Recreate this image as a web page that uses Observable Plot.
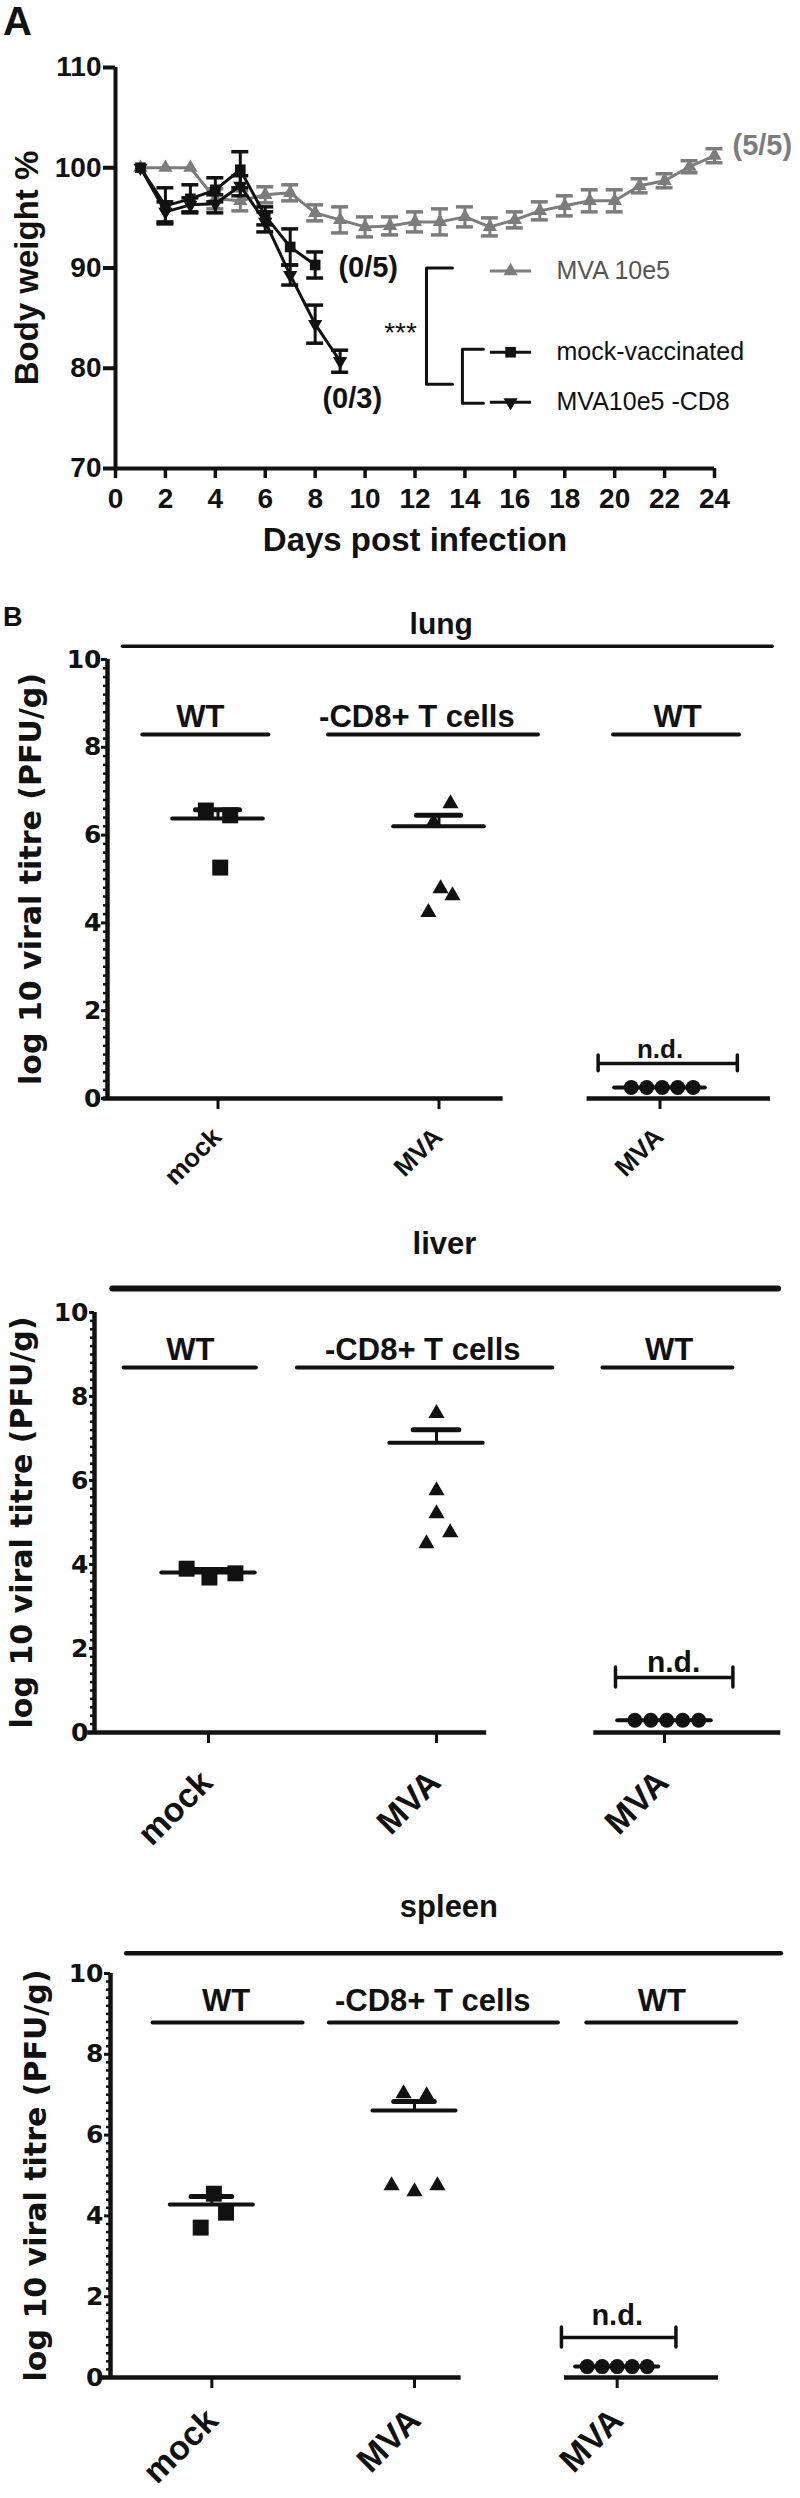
<!DOCTYPE html>
<html>
<head>
<meta charset="utf-8">
<script src="https://cdn.jsdelivr.net/npm/d3@7"></script>
<script src="https://cdn.jsdelivr.net/npm/@observablehq/plot@0.6"></script>
<style>
  body { margin: 0; background: #fff; }
  #page { position: relative; width: 800px; height: 2498px; overflow: hidden; background: #fff;
          font-family: "Liberation Sans", Arial, Helvetica, sans-serif; color: #111; }
  .letter { position: absolute; left: 3px; font-weight: bold; line-height: 1; }
</style>
</head>
<body>
<div id="page"></div>
<script>
// ---------------- Panel A data: body weight % (mean, SEM) ----------------
const dayMVA  = [1,2,3,4,5,6,7,8,9,10,11,12,13,14,15,16,17,18,19,20,21,22,23,24];
const mvaMean = [100,100,100,96.9,96.7,97.3,97.5,95.5,94.8,94.1,94.2,94.6,94.6,95.1,94.1,94.8,95.7,96.2,96.7,96.7,98.2,98.7,100.1,101.2];
const mvaSem  = [0,0,0,1.0,1.0,0.8,0.8,0.8,1.3,1.0,0.9,1.0,1.3,1.0,0.9,0.8,0.9,1.0,1.1,1.1,0.7,0.7,0.6,0.7];
const dayMock  = [1,2,3,4,5,6,7,8];
const mockMean = [100,96.2,96.9,97.8,99.8,95.2,92.1,90.3];
const mockSem  = [0,1.8,1.4,1.2,1.8,0.9,1.8,1.3];
const dayCD8  = [1,2,3,4,5,6,7,8,9];
const cd8Mean = [100,95.6,96.3,96.4,98.2,94.6,89.3,84.4,80.7];
const cd8Sem  = [0,1.0,0.7,0.9,1.0,1.0,1.0,1.9,1.1];
const seriesLabels = ["MVA 10e5", "mock-vaccinated", "MVA10e5 -CD8"];
const survivalLabels = ["(5/5)", "(0/5)", "(0/3)"];
const xTicksA = [0,2,4,6,8,10,12,14,16,18,20,22,24];
const yTicksA = [70,80,90,100,110];

// ---------------- Panel B data: log10 viral titre ----------------
const groupLabels = ["WT", "-CD8+ T cells", "WT"];
const catLabels = ["mock", "MVA", "MVA"];
const catIndex = [0, 1, 2];
const yTicksB = [0, 2, 4, 6, 8, 10];

const lungMock = [6.56, 6.45, 5.26];
const lungCD8  = [6.72, 6.29, 4.78, 4.62, 4.24];
const lungWT   = [0.25, 0.25, 0.25, 0.25, 0.25];
const lungMean = [6.38, 6.2, 0.25];
const lungSem  = [0.2, 0.25, 0];

const liverMock = [3.9, 3.69, 3.79];
const liverCD8  = [7.6, 5.76, 5.21, 4.76, 4.5];
const liverWT   = [0.29, 0.29, 0.29, 0.29, 0.29];
const liverMean = [3.81, 6.9, 0.29];
const liverSem  = [0.07, 0.31, 0];

const spleenMock = [4.55, 4.08, 3.71];
const spleenCD8  = [7.03, 6.98, 4.75, 4.6, 4.75];
const spleenWT   = [0.27, 0.27, 0.27, 0.27, 0.27];
const spleenMean = [4.28, 6.61, 0.27];
const spleenSem  = [0.2, 0.22, 0];

// horizontal scatter of the dots inside each column (category units)
const lungJit   = [[-0.055, 0.055, 0.01], [0.052, -0.025, 0.007, 0.061, -0.048], [-0.13, -0.06, 0.01, 0.08, 0.15]];
const liverJit  = [[-0.096, 0.004, 0.118], [0, 0, 0, 0.06, -0.044], [-0.13, -0.06, 0.01, 0.08, 0.15]];
const spleenJit = [[0.01, 0.07, -0.055], [-0.054, 0.06, -0.113, 0, 0.113], [-0.148, -0.074, 0, 0.074, 0.148]];

// ---------------- styling ----------------
const FONT = "'Liberation Sans', Arial, Helvetica, sans-serif";
const DEJA = "'DejaVu Sans', Verdana, sans-serif";
const INK = "#111";
const GREY = "#7c7c7c";
const page = document.getElementById("page");

function put(node, top) {
  node.style.position = "absolute";
  node.style.left = "0px";
  node.style.top = top + "px";
  page.appendChild(node);
}
function letter(t, top, size) {
  const d = document.createElement("div");
  d.className = "letter";
  d.textContent = t;
  d.style.top = top + "px";
  d.style.fontSize = size + "px";
  page.appendChild(d);
}

const downTriangle = {
  draw(ctx, size) {
    const y = -Math.sqrt(size / (3 * Math.sqrt(3)));
    ctx.moveTo(0, -2 * y);
    ctx.lineTo(-Math.sqrt(3) * y, y);
    ctx.lineTo(Math.sqrt(3) * y, y);
    ctx.closePath();
  }
};

// ---------------- Panel A ----------------
function recs(days, mean, sem) { return days.map((d, i) => ({day: d, v: mean[i], e: sem[i]})); }
function seriesMarks(data, color, symbol, r) {
  const err = data.filter(d => d.e > 0);
  return [
    Plot.ruleX(err, {x: "day", y1: d => d.v - d.e, y2: d => d.v + d.e, stroke: color, strokeWidth: 3}),
    Plot.ruleY(err, {x1: d => d.day - 0.34, x2: d => d.day + 0.34, y: d => d.v + d.e, stroke: color, strokeWidth: 3.5}),
    Plot.ruleY(err, {x1: d => d.day - 0.34, x2: d => d.day + 0.34, y: d => d.v - d.e, stroke: color, strokeWidth: 3.5}),
    Plot.line(data, {x: "day", y: "v", stroke: color, strokeWidth: 3}),
    Plot.dot(data, {x: "day", y: "v", symbol, r, fill: color, stroke: "none"})
  ];
}
const mva = recs(dayMVA, mvaMean, mvaSem);
const mock = recs(dayMock, mockMean, mockSem);
const cd8 = recs(dayCD8, cd8Mean, cd8Sem);

const legendRows = [
  {label: seriesLabels[0], y: 89.7, color: GREY, text: "#555", symbol: "triangle", r: 5},
  {label: seriesLabels[1], y: 81.6, color: INK, text: INK, symbol: "square", r: 6},
  {label: seriesLabels[2], y: 76.6, color: INK, text: INK, symbol: downTriangle, r: 5}
];
const survivalNotes = [
  {t: survivalLabels[0], x: 24.72, y: 102.2, c: GREY},
  {t: survivalLabels[1], x: 8.93, y: 90.0, c: INK},
  {t: survivalLabels[2], x: 8.29, y: 77.0, c: INK}
];

const plotA = Plot.plot({
  width: 800, height: 560,
  marginLeft: 115, marginRight: 86, marginTop: 67, marginBottom: 92,
  style: {fontFamily: FONT, color: INK, background: "transparent", overflow: "visible"},
  x: {domain: [0, 24]},
  y: {domain: [70, 110]},
  marks: [
    Plot.axisY({ticks: yTicksA, tickSize: 12, tickPadding: 2, fontSize: 28, fontWeight: "bold", strokeWidth: 4, label: null}),
    Plot.axisX({ticks: xTicksA, tickSize: 10, tickPadding: 10, fontSize: 28, fontWeight: "bold", strokeWidth: 3.5, label: null}),
    Plot.ruleX([0], {y1: 70, y2: 110, stroke: INK, strokeWidth: 4}),
    Plot.ruleY([70], {x1: 0, x2: 24, stroke: INK, strokeWidth: 4}),
    Plot.text(["Body weight %"], {text: d => d, frameAnchor: "left", dx: -88, rotate: -90, textAnchor: "middle",
      lineAnchor: "middle", fontSize: 33, fontWeight: "bold", fill: INK}),
    Plot.text(["Days post infection"], {text: d => d, frameAnchor: "bottom", dy: 72, textAnchor: "middle",
      lineAnchor: "middle", fontSize: 33, fontWeight: "bold", fill: INK}),
    ...seriesMarks(mva, GREY, "triangle", 5.3),
    ...seriesMarks(mock, INK, "square", 6),
    ...seriesMarks(cd8, INK, downTriangle, 5.3),
    Plot.text(survivalNotes, {x: "x", y: "y", text: "t", fill: "c", textAnchor: "start", lineAnchor: "middle",
      fontSize: 29, fontWeight: "bold"}),
    // significance brackets
    Plot.line([[13.5, 90.0], [12.46, 90.0], [12.46, 78.4], [13.5, 78.4]], {x: d => d[0], y: d => d[1], stroke: INK, strokeWidth: 3}),
    Plot.line([[14.74, 81.9], [13.9, 81.9], [13.9, 76.5], [14.74, 76.5]], {x: d => d[0], y: d => d[1], stroke: INK, strokeWidth: 3}),
    Plot.text(["***"], {text: d => d, x: 11.42, y: 83.5, textAnchor: "middle", lineAnchor: "middle", fontSize: 28, fill: INK}),
    // legend
    Plot.ruleY(legendRows, {x1: 15.02, x2: 16.67, y: "y", stroke: "color", strokeWidth: 3}),
    Plot.dot(legendRows.slice(0, 1), {x: 15.83, y: "y", symbol: "triangle", r: 5.3, fill: GREY, stroke: "none"}),
    Plot.dot(legendRows.slice(1, 2), {x: 15.83, y: "y", symbol: "square", r: 6, fill: INK, stroke: "none"}),
    Plot.dot(legendRows.slice(2, 3), {x: 15.83, y: "y", symbol: downTriangle, r: 5.3, fill: INK, stroke: "none"}),
    Plot.text(legendRows, {x: 17.67, y: "y", text: "label", fill: "text", textAnchor: "start", lineAnchor: "middle", fontSize: 25})
  ]
});
put(plotA, 0);
letter("A", 1, 40);

// ---------------- Panel B ----------------
const minorB = d3.range(0.2, 10, 0.2).filter(v => Math.abs(v / 2 - Math.round(v / 2)) > 1e-6);

function organPlot(c) {
  const symbols = ["square", "triangle", "circle"];
  const radii = [9, 6, 7.5];
  const pts = [];
  c.groups.forEach((vals, g) => vals.forEach((v, i) => pts.push({g, x: g + c.jit[g][i], v})));
  const withSem = catIndex.filter(d => c.sem[d] > 0);
  return Plot.plot({
    width: 800, height: c.height,
    marginLeft: c.ml, marginRight: c.mr, marginTop: c.mt, marginBottom: c.mb,
    style: {fontFamily: FONT, color: INK, background: "transparent", overflow: "visible"},
    x: {domain: [-0.5, 2.5], axis: null},
    y: {domain: [0, 10], axis: null},
    marks: [
      // organ title and rule above
      Plot.text([c.name], {text: d => d, x: c.titleX, y: c.titleY, textAnchor: "middle", lineAnchor: "bottom",
        fontSize: c.titleSize, fontWeight: "bold", fill: INK}),
      Plot.ruleY([c.topY], {x1: c.topX1, x2: c.topX2, stroke: INK, strokeWidth: c.topW, strokeLinecap: "round"}),
      // group labels with underlines
      Plot.ruleY(c.under, {x1: d => d[0], x2: d => d[1], y: c.underY, stroke: INK, strokeWidth: 4, strokeLinecap: "round"}),
      Plot.text(groupLabels, {text: d => d, x: (d, i) => c.labelX[i], y: c.labelY, textAnchor: "middle", lineAnchor: "bottom",
        fontSize: 31, fontWeight: "bold", fill: INK}),
      // axes
      Plot.axisY({ticks: yTicksB, tickSize: c.tick, tickPadding: c.pad, fontSize: 25, fontFamily: DEJA, fontWeight: "bold",
        strokeWidth: 3, label: null}),
      Plot.ruleY(minorB, {y: d => d, x1: -0.5, x2: -0.5, insetLeft: -4, stroke: INK, strokeWidth: 2.5}),
      Plot.ruleX([-0.5], {y1: 0, y2: 10, stroke: INK, strokeWidth: 4.5}),
      Plot.ruleY(c.seg, {x1: d => d[0], x2: d => d[1], y: 0, stroke: INK, strokeWidth: 4.5}),
      Plot.ruleX(catIndex, {x: d => d, y1: 0, y2: 0, insetBottom: -11, stroke: INK, strokeWidth: 3}),
      Plot.text(catIndex, {x: d => d, y: 0, text: d => catLabels[d], rotate: -45, textAnchor: "end", lineAnchor: "bottom",
        dx: c.catDx, dy: c.catDy, fontSize: c.catSize, fontWeight: "bold", fill: INK}),
      Plot.text(["log 10 viral titre (PFU/g)"], {text: d => d, frameAnchor: "left", dx: c.ylabX - c.ml, rotate: -90,
        textAnchor: "middle", lineAnchor: "middle", fontSize: 30, fontFamily: DEJA, fontWeight: "bold", fill: INK}),
      // mean + upper SEM
      Plot.ruleY(catIndex, {x1: d => d - 0.205, x2: d => d + 0.205, y: d => c.mean[d], stroke: INK, strokeWidth: 4, strokeLinecap: "round"}),
      Plot.ruleX(withSem, {x: d => d, y1: d => c.mean[d], y2: d => c.mean[d] + c.sem[d], stroke: INK, strokeWidth: 3}),
      Plot.ruleY(withSem, {x1: d => d - 0.1, x2: d => d + 0.1, y: d => c.mean[d] + c.sem[d], stroke: INK, strokeWidth: 5, strokeLinecap: "round"}),
      // n.d. bracket
      Plot.ruleY([c.ndY], {x1: 2 + c.ndX1, x2: 2 + c.ndX2, stroke: INK, strokeWidth: 3.5}),
      Plot.ruleX([2 + c.ndX1, 2 + c.ndX2], {x: d => d, y1: c.ndY - c.ndC, y2: c.ndY + c.ndC, stroke: INK, strokeWidth: 3.5, strokeLinecap: "round"}),
      Plot.text(["n.d."], {text: d => d, x: 2 + c.ndTx, y: c.ndTy, textAnchor: "middle", lineAnchor: "bottom",
        fontSize: c.ndSize, fontWeight: "bold", fill: INK}),
      // individual animals
      ...symbols.map((s, g) => Plot.dot(pts.filter(p => p.g === g), {x: "x", y: "v", symbol: s, r: radii[g], fill: INK, stroke: "none"}))
    ]
  });
}

const lungPlot = organPlot({
  name: "lung", height: 610, ml: 107, mr: 30, mt: 69, mb: 102,
  groups: [lungMock, lungCD8, lungWT], jit: lungJit, mean: lungMean, sem: lungSem,
  titleX: 1.01, titleY: 10.57, titleSize: 30,
  topY: 10.3, topX1: -0.43, topX2: 2.51, topW: 3.5,
  underY: 8.29, under: [[-0.34, 0.23], [0.5, 1.45], [1.79, 2.36]],
  labelY: 8.47, labelX: [-0.08, 0.9, 2.08],
  seg: [[-0.52, 1.29], [1.67, 2.5]],
  tick: 6, pad: 0, catDx: 5, catDy: 40, catSize: 26, ylabX: 31,
  ndY: 0.8, ndX1: -0.28, ndX2: 0.35, ndC: 0.18, ndTx: 0, ndTy: 0.93, ndSize: 26
});
put(lungPlot, 590);
letter("B", 604, 27);

const liverPlot = organPlot({
  name: "liver", height: 680, ml: 94, mr: 22, mt: 112, mb: 148,
  groups: [liverMock, liverCD8, liverWT], jit: liverJit, mean: liverMean, sem: liverSem,
  titleX: 1.035, titleY: 11.4, titleSize: 31,
  topY: 10.57, topX1: -0.42, topX2: 2.5, topW: 6,
  underY: 8.69, under: [[-0.37, 0.21], [0.39, 1.51], [1.73, 2.3]],
  labelY: 8.86, labelX: [-0.08, 0.94, 2.02],
  seg: [[-0.53, 1.22], [1.69, 2.51]],
  tick: 5, pad: 1, catDx: 6, catDy: 52, catSize: 34, ylabX: 22,
  ndY: 1.31, ndX1: -0.215, ndX2: 0.3, ndC: 0.24, ndTx: 0.04, ndTy: 1.43, ndSize: 30
});
put(liverPlot, 1200);

const spleenPlot = organPlot({
  name: "spleen", height: 618, ml: 110, mr: 82, mt: 93, mb: 121,
  groups: [spleenMock, spleenCD8, spleenWT], jit: spleenJit, mean: spleenMean, sem: spleenSem,
  titleX: 1.17, titleY: 11.39, titleSize: 31,
  topY: 10.5, topX1: -0.42, topX2: 2.81, topW: 4.5,
  underY: 8.79, under: [[-0.29, 0.45], [0.58, 1.71], [1.85, 2.59]],
  labelY: 9.08, labelX: [0.07, 1.09, 2.22],
  seg: [[-0.55, 1.23], [1.74, 2.5]],
  tick: 6, pad: 1, catDx: 8, catDy: 45, catSize: 34, ylabX: 36,
  ndY: 0.99, ndX1: -0.275, ndX2: 0.29, ndC: 0.25, ndTx: 0, ndTy: 1.29, ndSize: 29
});
put(spleenPlot, 1880);
</script>
</body>
</html>
